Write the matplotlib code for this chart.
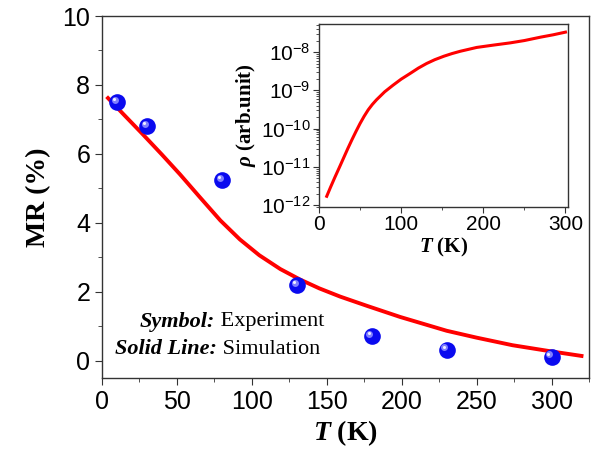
import matplotlib
matplotlib.use("Agg")
import matplotlib.pyplot as plt
import matplotlib.transforms as mtransforms
from matplotlib.ticker import MultipleLocator, LogLocator, LogFormatterMathtext, NullFormatter
import numpy as np

plt.rcParams['font.family'] = 'Liberation Sans'
plt.rcParams['mathtext.fontset'] = 'custom'
plt.rcParams['mathtext.rm'] = 'Liberation Sans'
plt.rcParams['mathtext.it'] = 'Liberation Serif:italic:bold'
plt.rcParams['mathtext.bf'] = 'Liberation Serif:bold'

# experiment (symbols)
exp_T = [10, 30, 80, 130, 180, 230, 300]
exp_MR = [7.5, 6.8, 5.25, 2.2, 0.72, 0.32, 0.12]

# simulation (solid line)
sim_T = [4, 15, 27, 40, 52, 65, 79, 92, 105, 119, 132, 145, 159, 177, 199, 230, 250, 274, 300, 320]
sim_MR = [7.62, 7.12, 6.58, 5.98, 5.41, 4.76, 4.07, 3.52, 3.06, 2.66, 2.36, 2.1, 1.86, 1.59,
          1.27, 0.87, 0.67, 0.45, 0.27, 0.14]

# inset resistivity (log10 values)
rho_T = [9.5, 14, 19.5, 25, 30, 35, 40, 45, 50, 55, 60, 65, 70, 80, 90, 100, 111, 121, 131,
         141, 152, 162, 172, 192, 212, 233, 250, 270, 285, 300]
rho_log = [-11.77, -11.54, -11.27, -11.01, -10.77, -10.53, -10.3, -10.08, -9.87, -9.68, -9.51,
           -9.37, -9.25, -9.04, -8.87, -8.71, -8.56, -8.42, -8.3, -8.2, -8.11, -8.04, -7.98,
           -7.88, -7.82, -7.76, -7.7, -7.61, -7.55, -7.48]

fig = plt.figure(figsize=(5.95, 4.59), dpi=100)
ax = fig.add_axes([0.1714, 0.1765, 0.8185, 0.7886])

ax.plot(sim_T, sim_MR, color='#ff0000', lw=2.8, zorder=2, solid_joinstyle='round')

# shaded spheres: blue disc + offset highlight
ax.plot(exp_T, exp_MR, 'o', ms=12, color='#0a0aef', mec='none', zorder=3)
hl1 = mtransforms.offset_copy(ax.transData, fig=fig, x=-1.6, y=1.6, units='points')
ax.plot(exp_T, exp_MR, 'o', ms=5, color='#8080ff', mec='none', transform=hl1, zorder=4)
hl2 = mtransforms.offset_copy(ax.transData, fig=fig, x=-2.2, y=2.2, units='points')
ax.plot(exp_T, exp_MR, 'o', ms=2.2, color='#f0f0ff', mec='none', transform=hl2, zorder=5)

ax.set_xlim(0, 325)
ax.set_ylim(-0.5, 10)
ax.xaxis.set_major_locator(MultipleLocator(50))
ax.xaxis.set_minor_locator(MultipleLocator(25))
ax.yaxis.set_major_locator(MultipleLocator(2))
ax.yaxis.set_minor_locator(MultipleLocator(1))
ax.tick_params(which='both', direction='out', labelsize=18, color='#333333')
ax.tick_params(which='major', length=5)
ax.tick_params(which='minor', length=3)
for s in ax.spines.values():
    s.set_color('#333333')
    s.set_linewidth(1.0)

ax.set_xlabel(r'$\mathit{T}$ (K)', family='Liberation Serif', fontweight='bold', fontsize=20, labelpad=3)
ax.set_ylabel('MR (%)', family='Liberation Serif', fontweight='bold', fontsize=20, labelpad=8)

ax.text(0.232, 0.155, 'Symbol:', transform=ax.transAxes, ha='right', va='center',
        family='Liberation Serif', fontweight='bold', style='italic', fontsize=16)
ax.text(0.232, 0.155, ' Experiment', transform=ax.transAxes, ha='left', va='center',
        family='Liberation Serif', fontsize=16)
ax.text(0.236, 0.08, 'Solid Line:', transform=ax.transAxes, ha='right', va='center',
        family='Liberation Serif', fontweight='bold', style='italic', fontsize=16)
ax.text(0.236, 0.08, ' Simulation', transform=ax.transAxes, ha='left', va='center',
        family='Liberation Serif', fontsize=16)

# inset
ins = fig.add_axes([0.536, 0.549, 0.4185, 0.3987])
ins.semilogy(rho_T, [10 ** v for v in rho_log], color='#ff0000', lw=2.2, solid_joinstyle='round')
ins.set_xlim(0, 303)
ins.set_ylim(8.9e-13, 5.4e-8)
ins.xaxis.set_major_locator(MultipleLocator(100))
ins.xaxis.set_minor_locator(MultipleLocator(50))
ins.yaxis.set_major_locator(LogLocator(base=10, numticks=10))
ins.yaxis.set_minor_locator(LogLocator(base=10, subs=np.arange(2, 10), numticks=10))
ins.yaxis.set_major_formatter(LogFormatterMathtext())
ins.yaxis.set_minor_formatter(NullFormatter())
ins.tick_params(which='both', direction='out', labelsize=15, color='#333333', pad=2)
ins.tick_params(which='major', length=4)
ins.tick_params(which='minor', length=2)
for s in ins.spines.values():
    s.set_color('#333333')
    s.set_linewidth(1.0)
ins.set_xlabel(r'$\mathit{T}$ (K)', family='Liberation Serif', fontweight='bold', fontsize=15, labelpad=1)
ins.set_ylabel(r'$\mathit{\rho}$ (arb.unit)', family='Liberation Serif', fontweight='bold', fontsize=15, labelpad=2)

fig.savefig('out.png', dpi=100)
